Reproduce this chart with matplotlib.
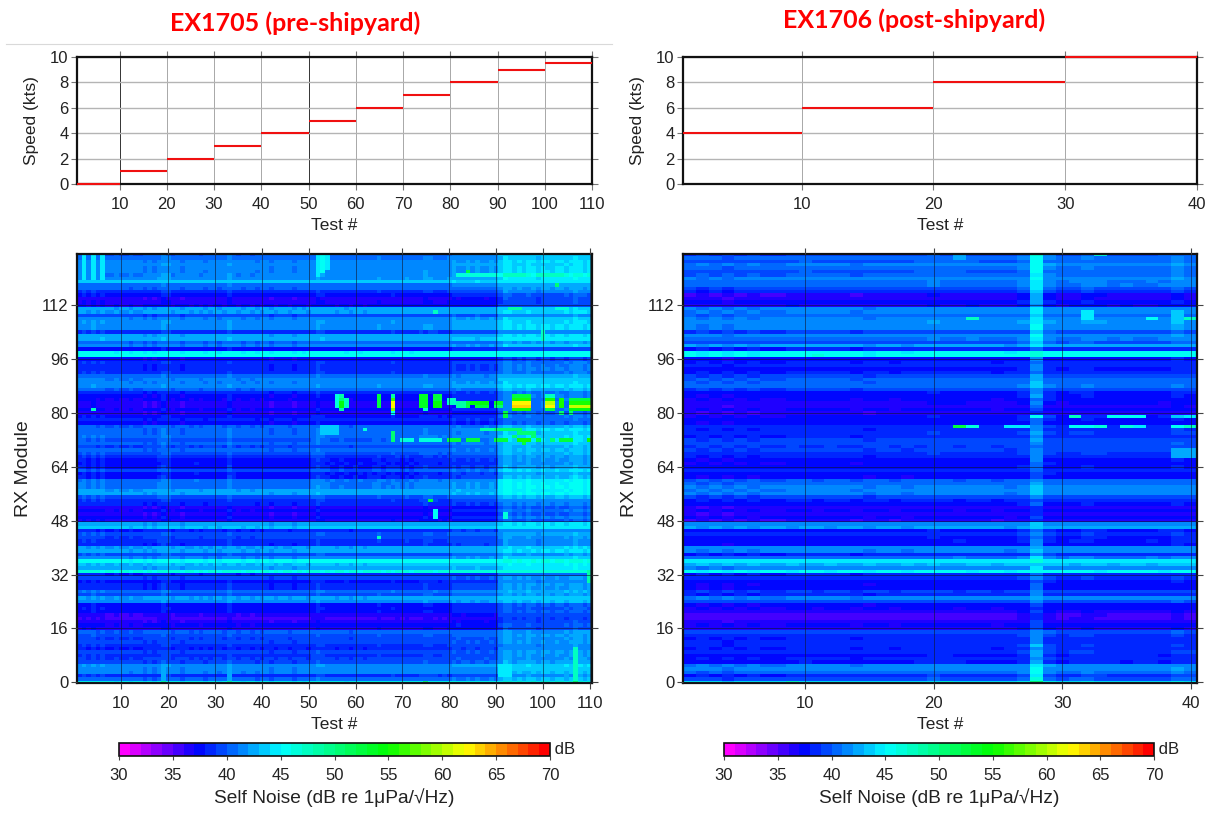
import numpy as np
import matplotlib
matplotlib.use("Agg")
import matplotlib.pyplot as plt
from matplotlib.colors import LinearSegmentedColormap, Normalize

plt.rcParams['font.family'] = ['Liberation Sans', 'DejaVu Sans']

# ---------- speed panels ----------
speed_edges_left = [1, 10, 20, 30, 40, 50, 60, 70, 80, 90, 100, 110]
speed_left = [0, 1, 2, 3, 4, 5, 6, 7, 8, 9, 9.5]
speed_edges_right = [1, 10, 20, 30, 40]
speed_right = [4, 6, 8, 10]
ticks_left = [10, 20, 30, 40, 50, 60, 70, 80, 90, 100, 110]
ticks_right = [10, 20, 30, 40]
speed_ticks = [0, 2, 4, 6, 8, 10]
module_ticks = [0, 16, 32, 48, 64, 80, 96, 112]
cbar_ticks = [30, 35, 40, 45, 50, 55, 60, 65, 70]

# ---------- per-module levels (dB), module 0 upward ----------
slow_left = [
    45,40,38.5,41,41,41.5,39,39,38.5,39,38,38.5,39,39,39.5,40,
    36.5,37,36,35.5,36,37.5,37.5,37.5,41.5,42,39.5,40.5,38,38,37.5,39,
    38,46,42,43,45,41,39.5,42,42,38,38.5,39,39.5,38,43,42,
    36.5,37,36,37,36,38,38.5,39.5,42,42,40.5,40.5,40.5,37.5,37.5,39.5,
    37.5,37.5,37.5,38.5,39.5,40,39,40,39.5,40.5,40,40,40,37,38,37.5,
    36,37,36,36,37,37,38,40,41.5,41,41,40.5,38.5,38,38,38.5,
    37,45.5,45,37.5,41,40,42.5,42,38.5,41.5,41.5,41.5,41,39,42,42,
    37,36.5,36,37.5,38.5,40,40.5,43.5,41.5,41,41,41,41.5,41,40.5,40]
fast_left = [
    46,43,42,43,43.5,44,42.5,42,42,42,41.5,41.5,42,42,42,42,
    39.5,40,39.5,39,39.5,40,40,40,43,43.5,42,43,42,42,41.5,42,
    40.5,46.5,44.5,45,46,43.5,42,44,44,41.5,41.5,42,42.5,41.5,44.5,44,
    40,41,40,41,40,41,41.5,43,45,45,45,45,45,43,42.5,44,
    42.5,42,42,42,43,43,43,43.5,44,44,43.5,44,43,40,40.5,41,
    40,41,41,41,41,41,41,43,44,43.5,43.5,42.5,41,41,41,41,
    39,45.5,45.5,39.5,43.5,42,44.5,44,41.5,44,44,44,43.5,41.5,44,43.5,
    39.5,39.5,39.5,40,41.5,42,42.5,44.5,44.5,46,44,44,44,44,43.5,43.5]
slow_right = [
    44,39,38,40,41,41,37.5,38,37.5,38.5,38,38,38,38,38.5,39.5,
    36.5,37,36,35.5,35.5,36.5,37,37,39.5,41,38,39,37,37,37.5,38.5,
    38,45,41,43,44.5,40.5,38,41,41.5,37,37.5,37.5,38.5,37.5,42,41.5,
    36,37,36,37,36,37.5,38,39,41,41,41,40,40,37,37.5,38.5,
    37.5,37,37,38,38.5,39,39,39.5,39,38,38.5,38,38.5,37,37.5,37,
    36,37,36,36.5,37,37,37.5,39,40.5,40,40,39,38,37.5,38,38,
    37,45,45,38,42,39.5,40.5,41,39,41,41,41.5,41,40,41,41,
    36.5,37,36,36,38,39,40.5,40.5,41,40,39.5,40,41,39.5,40,39]
peak_right = [
    50,46,45,45,45,45,42,42,42,42,42,43,41.5,41.5,41.5,42,
    39,39.5,39,38.5,38.5,39,39,39.5,41.5,43,41,41.5,40,40,40,41,
    41,45.5,44,44,46,44,42,43,43,41,41,41,41.5,41,43,43,
    38.5,39,38.5,39,38.5,40,40,41,43,43.5,43,42.5,42,39.5,39.5,40,
    40,41,41,41,42,41,41,41.5,42,41.5,42,41.5,41.5,40,40,45,
    38.5,40,40,41,41,42,41,42,43,43,43,42,41,41,41,41,
    41,46,46,41,44.5,43,45,45,44,45,45,45,44.5,43,44.5,44,
    42,42,42,42.5,43,44,44.5,44.5,45,45,45,45,45.5,45.5,45.5,47]

# ---------- per-test weight between the two level sets ----------
weight_left = [
    .1,.2,.05,.2,.05,.2,0,0,.05,0, 0,.05,0,0,0,.05,0,.1,.3,.2,
    0,.05,0,.05,.05,.1,0,.05,.05,.05, .05,.05,.3,.1,0,.05,.05,0,.05,.05,
    .05,0,.05,.05,.05,.05,0,.05,.05,.05, .15,.3,.2,.1,.1,.05,.1,.1,.05,.1,
    .1,.05,.1,.1,.15,.1,.1,.15,.1,.05, .1,.1,.1,.15,.25,.2,.15,.1,.15,.15,
    .35,.3,.3,.35,.3,.35,.3,.3,.35,.3, .85,1.1,1.05,.9,1.0,.95,1.05,.95,.85,1.0,
    .95,.9,1.0,.95,1.0,1.0,1.15,1.05,.95,1.05]
weight_right = [
    0,.02,0,0,0,.02,0,0,.08,.08, .05,.05,.02,.02,.03,.05,.03,.03,.08,.15,
    .1,.08,.1,.05,.03,.05,.2,1,.25,.08, .12,.2,.15,.1,.12,.1,.1,.12,.25,.15]

# ---------- fine per-test and per-module variation ----------
wiggle_left = [
    .15,-.1,.2,0,.25,-.15,.05,.2,-.1,.15, .25,-.15,.1,.2,-.05,.15,-.2,.25,.1,-.1,
    .2,.05,-.15,.15,.25,-.1,.1,-.2,.2,.05, -.15,.25,.1,-.05,.2,-.15,.15,.05,-.2,.25,
    .1,-.1,.2,-.05,.15,.25,-.15,.1,-.1,.2, .05,.25,-.15,.15,-.1,.2,.1,-.2,.25,.05,
    -.15,.2,-.05,.15,.25,-.1,.1,-.2,.2,.05, .25,-.15,.15,-.1,.3,.1,-.15,.2,-.05,.15,
    .25,-.2,.1,.2,-.1,.3,.05,-.15,.2,.1, -.25,.3,.1,-.2,.25,.05,-.15,.3,-.1,.15,
    .25,-.2,.1,.3,-.15,.05,.35,.15,-.2,.2]
wiggle_right = [
    .1,-.15,.15,-.05,.2,-.1,.1,.15,-.15,.2, .15,-.1,.05,.2,-.15,.1,.15,-.1,.2,-.05,
    .15,.25,-.1,.05,.15,-.15,.1,.15,-.15,.1, .2,.05,-.15,.15,-.05,.1,.2,-.1,.15,.05]
wiggle_module = [
    .6,.8,-.7,.9,.4,-.6,.9,-.8,.5,.7,-.9,.6,.3,-.7,.8,-.5,
    .7,-.6,.4,.9,-.7,.5,-.8,.6,.9,-.4,.7,-.9,.5,.8,-.6,.3,
    -.5,.7,.6,-.8,.4,.9,-.6,.8,-.7,.5,.9,-.4,.6,-.8,.7,.5,
    -.6,.8,.4,-.7,.5,.9,-.8,.6,.7,-.5,.9,.4,-.7,.8,-.6,.5,
    .9,-.7,.6,.8,-.5,.7,-.9,.4,.8,-.6,.5,.9,-.7,.6,.8,-.4,
    .7,-.8,.5,.6,-.9,.7,.4,-.6,.8,.9,-.5,.7,-.8,.6,.4,-.7,
    .5,.3,.4,-.6,.9,.7,-.8,.5,-.9,.8,.6,-.7,.9,.5,-.6,.8,
    -.7,.6,.5,-.8,.7,.9,-.5,.6,.8,-.7,.9,.5,-.6,.8,.7,-.5]

# ---------- isolated readings: first test, last test, first module, last module, dB ----------
spots_left = [
    (2,2,120,127,44),(4,4,120,127,44),(6,6,120,127,44),(4,4,81,81,47),
    (52,52,121,127,44),(53,53,122,127,45),(54,54,123,127,44),
    (56,56,82,85,46),(57,57,85,85,48),(57,57,84,84,50),(57,57,82,83,54),(57,57,81,81,48),(58,58,82,84,47),
    (65,65,82,85,52),(68,68,85,85,48),(68,68,84,84,56),(68,68,82,83,62),(68,68,81,81,58),(68,68,80,80,45),
    (74,75,82,85,53),(75,75,81,81,47),(77,78,84,85,52),(77,78,82,83,54),(80,81,83,84,47),
    (82,83,82,83,48),(84,84,82,83,52),(85,88,83,83,54),(86,88,82,82,52),(90,91,83,83,53),(90,91,82,82,50),
    (92,92,79,80,52),(94,97,85,85,52),(94,97,84,84,55),(94,97,83,83,62),(94,97,82,82,63),(94,97,81,81,55),
    (101,102,85,85,47),(101,102,84,84,55),(101,102,83,83,60),(101,102,82,82,62),(101,102,81,81,52),
    (104,104,82,84,55),(104,104,80,80,50),(106,110,84,84,52),(106,110,83,83,55),(106,110,82,82,60),(106,110,81,81,54),(106,106,80,80,50),
    (80,82,72,72,52),(84,86,72,72,52),(90,92,72,72,52),(95,97,72,72,55),(94,94,73,73,50),(96,96,71,71,52),
    (99,99,72,72,52),(102,102,72,72,50),(104,106,72,72,52),(110,110,72,72,55),
    (87,89,75,75,48),(90,95,75,75,50),(95,98,74,74,50),(98,98,73,74,50),(68,68,72,74,50),(62,62,75,75,46),
    (74,78,72,72,46),(70,72,72,72,46),(53,56,74,76,43),
    (84,84,121,122,52),(82,90,121,121,46),(92,96,121,121,47),(99,104,121,121,47),(103,103,118,118,50),
    (77,77,110,110,47),(93,95,111,111,48),(103,105,111,111,46.5),(100,100,102,104,47),
    (76,76,54,54,52),(65,65,43,43,47),(77,77,49,51,45),(92,92,49,50,46),
    (107,107,1,10,47),(107,107,0,0,50),(75,75,0,0,50),(19,19,0,0,48),(33,33,0,0,48),(19,19,1,4,42.5),(33,33,1,4,42.5),
    (91,93,2,5,44),(110,110,30,33,48),
]
spots_right = [
    (22,22,76,76,52),(23,23,76,76,46.5),(26,27,76,76,44),(31,32,76,76,45),(33,33,76,76,46),(35,35,76,76,46),
    (36,36,76,76,44.5),(40,40,76,76,47),(39,39,76,76,45),
    (28,28,79,79,45),(31,31,79,79,47),(34,36,79,79,45),(40,40,79,79,44),(39,39,79,79,43),
    (23,23,108,108,47),(32,32,108,108,44.5),(37,37,108,108,45),(40,40,108,108,47),(39,39,107,110,43.5),(32,32,109,110,44),
    (33,33,127,127,46.5),(22,22,126,127,42),(11,11,97,97,46.5),(39,40,67,69,42.5),
    (9,9,0,0,47),(21,21,0,0,46),
]

cbar_stops = [(30, '#ff00ff'), (37, '#0000ff'), (45, '#00ffff'), (55, '#00ff00'), (62.5, '#ffff00'), (70, '#ff0000')]


def grid_from(low, high, weights, wiggle, spots):
    low, high, weights = np.array(low, float), np.array(high, float), np.array(weights, float)
    z = low[:, None] + (high - low)[:, None] * weights[None, :]
    z = z + np.array(wiggle_module)[:, None] * np.array(wiggle)[None, :]
    for t0, t1, m0, m1, db in spots:
        z[m0:m1 + 1, t0 - 1:t1] = db
    return z


W, H = 1207, 814
fig = plt.figure(figsize=(W / 100, H / 100), dpi=100)
def box(x0, y0, x1, y1):
    return [x0 / W, 1 - y1 / H, (x1 - x0) / W, (y1 - y0) / H]

FS = 12
TXT = '#222222'
cmap = LinearSegmentedColormap.from_list(
    'gmtrain', [((v - 30) / 40, c) for v, c in cbar_stops], N=40)
norm = Normalize(30, 70)

panels = [
    dict(x0=77, x1=592, cx0=119, cx1=550, edges=speed_edges_left, speed=speed_left, ticks=ticks_left,
         z=grid_from(slow_left, fast_left, weight_left, wiggle_left, spots_left), title='EX1705 (pre-shipyard)',
         tx=295, ty=23, dark=[10, 50]),
    dict(x0=683, x1=1197, cx0=724, cx1=1154, edges=speed_edges_right, speed=speed_right, ticks=ticks_right,
         z=grid_from(slow_right, peak_right, weight_right, wiggle_right, spots_right), title='EX1706 (post-shipyard)',
         tx=914, ty=20, dark=[]),
]

for p in panels:
    # speed strip
    ax = fig.add_axes(box(p['x0'], 57, p['x1'], 184))
    ax.set_xlim(p['edges'][0], p['edges'][-1])
    ax.set_ylim(0, 10)
    for i, s in enumerate(p['speed']):
        ax.plot(p['edges'][i:i + 2], [s, s], color='#f01010', lw=1.5, zorder=5, solid_capstyle='butt', clip_on=False)
    ax.set_xticks(p['ticks'])
    ax.set_yticks(speed_ticks)
    for t in p['ticks']:
        ax.axvline(t, color='#333333' if t in p['dark'] else '#a8a8a8', lw=0.7, zorder=1)
    for s in speed_ticks:
        ax.axhline(s, color='#b4b4b4', lw=1.0, zorder=1)
    ax.tick_params(axis='both', length=4, width=0.8, color='#777777', labelsize=FS, labelcolor=TXT,
                   top=True, right=True)
    ax.tick_params(axis='x', pad=5.5)
    ax.tick_params(axis='y', pad=2)
    ax.set_xlabel('Test #', fontsize=12.5, color=TXT, labelpad=4.5)
    ax.set_ylabel('Speed (kts)', fontsize=12.5, color=TXT, labelpad=8)
    for sp in ax.spines.values():
        sp.set_linewidth(1.6)
        sp.set_color('#111111')

    # heat map
    ax = fig.add_axes(box(p['x0'], 254, p['x1'], 683))
    nt, nm = p['z'].shape[1], p['z'].shape[0]
    xe = np.arange(nt + 1) + 0.5
    ye = np.arange(nm + 1) - 0.5
    mesh = ax.pcolormesh(xe, ye, p['z'], cmap=cmap, norm=norm, shading='flat', rasterized=True)
    ax.set_xlim(0.5, nt + 0.5)
    ax.set_ylim(-0.2, 127.2)
    ax.set_xticks(p['ticks'])
    ax.set_yticks(module_ticks)
    ax.grid(True, color='#101830', lw=0.7, alpha=0.6)
    ax.set_axisbelow(False)
    ax.tick_params(axis='both', length=4, width=0.8, color='#444444', labelsize=FS, labelcolor=TXT,
                   top=True, right=True)
    ax.tick_params(axis='x', pad=5)
    ax.tick_params(axis='y', pad=2)
    ax.set_xlabel('Test #', fontsize=12.5, color=TXT, labelpad=4.5)
    ax.set_ylabel('RX Module', fontsize=14, color=TXT, labelpad=7)
    for sp in ax.spines.values():
        sp.set_linewidth(1.6)
        sp.set_color('#111111')

    # colour bar
    cax = fig.add_axes(box(p['cx0'], 743, p['cx1'], 756))
    cb = fig.colorbar(mesh, cax=cax, orientation='horizontal', ticks=cbar_ticks)
    cb.ax.tick_params(length=3, width=0.8, color='#444444', labelsize=FS, labelcolor=TXT, pad=6)
    cb.outline.set_linewidth(1.2)
    cb.outline.set_edgecolor('#111111')
    cb.set_label('Self Noise (dB re 1\u03bcPa/\u221aHz)', fontsize=13.8, color=TXT, labelpad=3.5)
    cax.text(1.0, 0.5, ' dB', transform=cax.transAxes, fontsize=FS, color=TXT, va='center', ha='left')

    fig.text(p['tx'] / W, 1 - p['ty'] / H, p['title'], color='#ff0000', fontsize=18, fontweight='bold',
             family='Lato', ha='center', va='center')

# thin rule under the left heading
fig.add_artist(plt.Line2D([6 / W, 612 / W], [1 - 44 / H, 1 - 44 / H], color='#d9d9d9', lw=0.8))

fig.savefig('out.png', dpi=100)
